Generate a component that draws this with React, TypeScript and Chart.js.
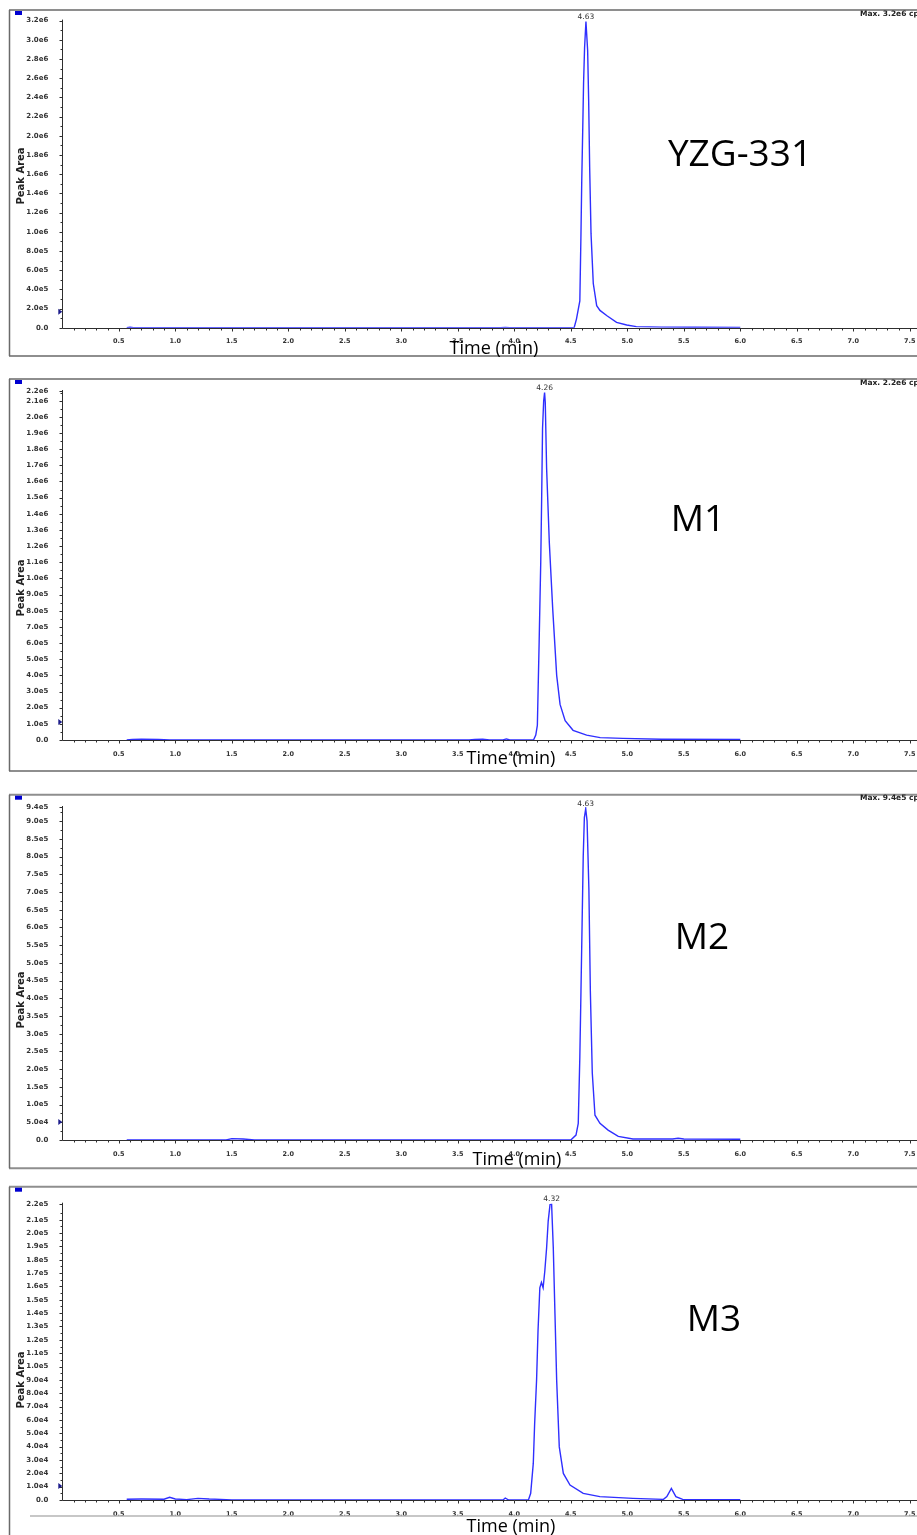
import React, { useEffect, useRef } from 'react';
import { Chart, registerables } from 'chart.js';

Chart.register(...registerables);

// ---------------- DATA ----------------
const panelNames = ['YZG-331', 'M1', 'M2', 'M3'];
const peakLabels = ['4.63', '4.26', '4.63', '4.32'];
const maxLabels = ['Max. 3.2e6 cps', 'Max. 2.2e6 cps', 'Max. 9.4e5 cps', ''];
const yAxisMax = [3.2e6, 2.16e6, 9.4e5, 2.22e5];
const yTickStep = [2e5, 1e5, 5e4, 1e4];
const xTickValues = [0.5, 1.0, 1.5, 2.0, 2.5, 3.0, 3.5, 4.0, 4.5, 5.0, 5.5, 6.0, 6.5, 7.0, 7.5, 8.0];
const xMinorStep = 0.1;
const xAxisMax = 8.0;
const xTitle = 'Time (min)';
const yTitle = 'Peak Area';

const yzgTime = [0.57, 0.6, 0.63, 1.5, 2.5, 3.5, 3.88, 3.92, 3.96, 4.5, 4.53, 4.55, 4.58, 4.59, 4.597, 4.605, 4.613, 4.622, 4.634, 4.649, 4.658, 4.667, 4.679, 4.699, 4.729, 4.758, 4.82, 4.905, 4.995, 5.08, 5.3, 5.6, 6.0];
const yzgArea = [0, 4000, 0, 0, 0, 0, 0, 3000, 0, 0, 2000, 90000, 280000, 980000, 1540000, 2030000, 2550000, 2920000, 3190000, 2890000, 2370000, 1670000, 980000, 460000, 230000, 180000, 125000, 55000, 28000, 11000, 6000, 4000, 3000];

const m1Time = [0.57, 0.62, 0.7, 0.85, 0.95, 2.0, 3.6, 3.65, 3.72, 3.78, 3.9, 3.93, 3.96, 4.17, 4.19, 4.204, 4.22, 4.234, 4.242, 4.25, 4.26, 4.268, 4.274, 4.286, 4.31, 4.34, 4.375, 4.405, 4.45, 4.52, 4.64, 4.76, 4.96, 5.3, 6.0];
const m1Area = [0, 4000, 5000, 3000, 0, 0, 0, 4000, 5000, 0, 0, 7000, 0, 0, 30000, 90000, 610000, 1100000, 1490000, 1930000, 2100000, 2150000, 2090000, 1680000, 1220000, 810000, 400000, 220000, 120000, 60000, 30000, 15000, 10000, 5000, 3000];

const m2Time = [0.57, 1.0, 1.45, 1.5, 1.6, 1.7, 3.0, 4.5, 4.546, 4.566, 4.58, 4.59, 4.6, 4.61, 4.62, 4.632, 4.644, 4.66, 4.673, 4.69, 4.714, 4.758, 4.83, 4.92, 5.05, 5.4, 5.45, 5.5, 6.0];
const m2Area = [0, 0, 0, 4000, 3000, 0, 0, 0, 14000, 47000, 235000, 420000, 610000, 800000, 910000, 935000, 900000, 710000, 420000, 190000, 70000, 47000, 28000, 10000, 3000, 3000, 5000, 3000, 2000];

const m3Time = [0.57, 0.7, 0.9, 0.95, 1.0, 1.1, 1.2, 1.3, 1.4, 1.5, 2.5, 3.9, 3.92, 3.95, 4.125, 4.145, 4.168, 4.18, 4.197, 4.21, 4.226, 4.24, 4.255, 4.27, 4.286, 4.3, 4.316, 4.33, 4.345, 4.36, 4.375, 4.398, 4.434, 4.493, 4.61, 4.757, 5.05, 5.32, 5.35, 5.39, 5.43, 5.49, 6.0];
const m3Area = [600, 700, 600, 2000, 800, 300, 1200, 700, 500, 0, 0, 0, 1500, 0, 0, 5000, 27400, 57200, 89500, 126900, 159000, 163000, 159000, 171600, 189000, 209000, 221300, 222000, 189000, 139000, 89500, 39800, 19900, 11200, 5000, 2500, 1200, 500, 2500, 8700, 2500, 500, 300];

const seriesTimes = [yzgTime, m1Time, m2Time, m3Time];
const seriesAreas = [yzgArea, m1Area, m2Area, m3Area];

// ---------------- LAYOUT ----------------
const CANVAS_W = 1000;
const Y_AXIS_W = 62.3;
const PX_PER_MIN = 113;

type Layout = {
  top: number; h: number; padTop: number; zeroY: number;
  frameTop: number; frameBottom: number | null; footY: number | null;
  timeX: number; timeBase: number; nameX: number; nameY: number;
  areaY: number; markerOff: number; maxY: number;
};

const layouts: Layout[] = [
  { top: 0, h: 370, padTop: 20.6, zeroY: 327.7, frameTop: 10, frameBottom: 356, footY: null, timeX: 494, timeBase: 354, nameX: 740, nameY: 155, areaY: 176, markerOff: 16, maxY: 14 },
  { top: 370, h: 410, padTop: 21, zeroY: 370, frameTop: 9, frameBottom: 401, footY: null, timeX: 511, timeBase: 394, nameX: 698, nameY: 150, areaY: 218, markerOff: 18, maxY: 13 },
  { top: 780, h: 398, padTop: 27, zeroY: 360, frameTop: 14.7, frameBottom: 388.3, footY: null, timeX: 517, timeBase: 385, nameX: 702, nameY: 158, areaY: 220, markerOff: 18, maxY: 18 },
  { top: 1178, h: 357, padTop: 25.7, zeroY: 322, frameTop: 8.7, frameBottom: null, footY: 338, timeX: 511, timeBase: 354, nameX: 714, nameY: 142, areaY: 202, markerOff: 14, maxY: 0 },
];

const fmtSci = (v: number) => {
  if (v === 0) return '0.0';
  let e = Math.floor(Math.log10(v) + 1e-9);
  let m = v / Math.pow(10, e);
  if (Number(m.toFixed(1)) >= 10) { e += 1; m = v / Math.pow(10, e); }
  return m.toFixed(1) + 'e' + e;
};

function makeDecor(i: number) {
  return {
    id: 'decor' + i,
    afterDatasetsDraw(chart: any) {
      const { ctx, chartArea: ca, scales } = chart;
      const x = scales.x;
      const y = scales.y;
      const L = layouts[i];
      const W = chart.width;
      ctx.save();

      // axis lines (on top of baseline trace)
      ctx.strokeStyle = '#2e2e2e';
      ctx.lineWidth = 1;
      const ax = Math.round(ca.left) + 0.5;
      const ay = Math.round(ca.bottom) + 0.5;
      ctx.beginPath();
      ctx.moveTo(ax, ca.top - 1);
      ctx.lineTo(ax, ay);
      ctx.lineTo(ca.right, ay);
      ctx.stroke();

      // x tick marks
      for (let k = 1; k * xMinorStep <= xAxisMax + 1e-9; k++) {
        const v = k * xMinorStep;
        const major = xTickValues.some((t) => Math.abs(t - v) < 1e-6);
        const px = Math.round(x.getPixelForValue(v)) + 0.5;
        ctx.beginPath();
        ctx.moveTo(px, ay);
        ctx.lineTo(px, ay + (major ? 3 : 2));
        ctx.stroke();
      }
      // y tick marks
      y.ticks.forEach((t: any) => {
        const py = Math.round(y.getPixelForValue(t.value)) + 0.5;
        ctx.beginPath();
        ctx.moveTo(ax - 3, py);
        ctx.lineTo(ax, py);
        ctx.stroke();
      });
      const step = yTickStep[i];
      for (let v = step / 2; v < yAxisMax[i]; v += step) {
        const py = Math.round(y.getPixelForValue(v)) + 0.5;
        ctx.beginPath();
        ctx.moveTo(ax - 2, py);
        ctx.lineTo(ax, py);
        ctx.stroke();
      }

      // threshold marker
      ctx.fillStyle = '#1c1c8c';
      const my = ca.bottom - L.markerOff;
      ctx.beginPath();
      ctx.moveTo(ca.left - 4, my - 3);
      ctx.lineTo(ca.left, my);
      ctx.lineTo(ca.left - 4, my + 3);
      ctx.closePath();
      ctx.fill();

      // frame
      ctx.strokeStyle = '#8e8e8e';
      ctx.lineWidth = 2;
      ctx.beginPath();
      ctx.moveTo(9, L.frameTop);
      ctx.lineTo(W, L.frameTop);
      if (L.frameBottom !== null) {
        ctx.moveTo(9, L.frameBottom);
        ctx.lineTo(W, L.frameBottom);
      }
      ctx.stroke();
      ctx.strokeStyle = '#6a6a6a';
      ctx.lineWidth = 1.5;
      ctx.beginPath();
      ctx.moveTo(9.5, L.frameTop);
      ctx.lineTo(9.5, L.frameBottom !== null ? L.frameBottom : L.h);
      ctx.stroke();
      if (L.footY !== null) {
        ctx.strokeStyle = '#b5b5b5';
        ctx.lineWidth = 1.5;
        ctx.beginPath();
        ctx.moveTo(30, L.footY);
        ctx.lineTo(W, L.footY);
        ctx.stroke();
      }

      // blue square
      ctx.fillStyle = '#0000d0';
      ctx.fillRect(15, L.frameTop + 1, 7, 4);

      // peak label
      const times = seriesTimes[i];
      const areas = seriesAreas[i];
      let mi = 0;
      areas.forEach((a, k) => { if (a > areas[mi]) mi = k; });
      const ppx = x.getPixelForValue(times[mi]);
      const ppy = y.getPixelForValue(areas[mi]);
      ctx.fillStyle = '#333';
      ctx.font = '7.5px "DejaVu Sans"';
      ctx.textAlign = 'center';
      ctx.textBaseline = 'bottom';
      ctx.fillText(peakLabels[i], ppx, ppy - 1);

      // max text
      if (maxLabels[i]) {
        ctx.font = 'bold 7.5px "DejaVu Sans"';
        ctx.textAlign = 'left';
        ctx.textBaseline = 'middle';
        ctx.fillStyle = '#222';
        ctx.fillText(maxLabels[i], 860, L.maxY);
      }

      // x title
      ctx.fillStyle = '#000';
      ctx.font = '18px "Open Sans"';
      ctx.textAlign = 'center';
      ctx.textBaseline = 'alphabetic';
      ctx.fillText(xTitle, L.timeX, L.timeBase);

      // compound name
      ctx.textBaseline = 'middle';
      ctx.font = '37px "Open Sans"';
      ctx.fillText(panelNames[i], L.nameX, L.nameY);

      // y title
      ctx.save();
      ctx.translate(21, L.areaY);
      ctx.rotate(-Math.PI / 2);
      ctx.font = 'bold 10px "DejaVu Sans"';
      ctx.fillStyle = '#222';
      ctx.fillText(yTitle, 0, 0);
      ctx.restore();

      ctx.restore();
    },
  };
}

function Panel({ idx }: { idx: number }) {
  const ref = useRef<HTMLCanvasElement>(null);
  const L = layouts[idx];
  useEffect(() => {
    if (!ref.current) return;
    const times = seriesTimes[idx];
    const areas = seriesAreas[idx];
    const maxV = yAxisMax[idx];
    const step = yTickStep[idx];
    const rightPad = CANVAS_W - Y_AXIS_W - PX_PER_MIN * xAxisMax;
    const chart = new Chart(ref.current, {
      type: 'line',
      data: {
        datasets: [
          {
            data: times.map((t, k) => ({ x: t, y: areas[k] })),
            borderColor: '#2f2fff',
            borderWidth: 1.4,
            pointRadius: 0,
            tension: 0,
            fill: false,
          },
        ],
      },
      options: {
        responsive: false,
        animation: false,
        devicePixelRatio: 1,
        layout: { padding: { top: L.padTop, right: rightPad, left: 0, bottom: 0 } },
        plugins: { legend: { display: false }, tooltip: { enabled: false } },
        scales: {
          x: {
            type: 'linear',
            min: 0,
            max: xAxisMax,
            afterBuildTicks: (s: any) => {
              s.ticks = xTickValues.map((v) => ({ value: v }));
            },
            afterFit: (s: any) => {
              s.height = L.h - L.zeroY;
            },
            grid: { display: false },
            border: { display: false },
            ticks: {
              autoSkip: false,
              maxRotation: 0,
              padding: 2,
              color: '#333',
              font: { family: '"DejaVu Sans"', size: 6.5, weight: 'bold' },
              callback: (v: any) => Number(v).toFixed(1),
            },
          },
          y: {
            type: 'linear',
            min: 0,
            max: maxV,
            afterBuildTicks: (s: any) => {
              const ticks: any[] = [];
              for (let k = 0; k * step < maxV - step * 0.5 + 1e-9; k++) {
                ticks.push({ value: k * step });
              }
              ticks.push({ value: maxV });
              s.ticks = ticks;
            },
            afterFit: (s: any) => {
              s.width = Y_AXIS_W;
            },
            grid: { display: false },
            border: { display: false },
            ticks: {
              autoSkip: false,
              padding: 6,
              color: '#333',
              font: { family: '"DejaVu Sans"', size: 7, weight: 'bold' },
              callback: (v: any) => fmtSci(Number(v)),
            },
          },
        },
      },
      plugins: [makeDecor(idx)],
    } as any);
    return () => chart.destroy();
  }, [idx]);
  return (
    <canvas
      ref={ref}
      width={CANVAS_W}
      height={L.h}
      style={{ position: 'absolute', left: 0, top: L.top, width: CANVAS_W, height: L.h, display: 'block' }}
    />
  );
}

export default function App() {
  return (
    <div
      style={{
        position: 'fixed',
        left: 0,
        top: 0,
        width: 917,
        height: 1535,
        overflow: 'hidden',
        background: '#fff',
      }}
    >
      {layouts.map((_, i) => (
        <Panel key={i} idx={i} />
      ))}
    </div>
  );
}
